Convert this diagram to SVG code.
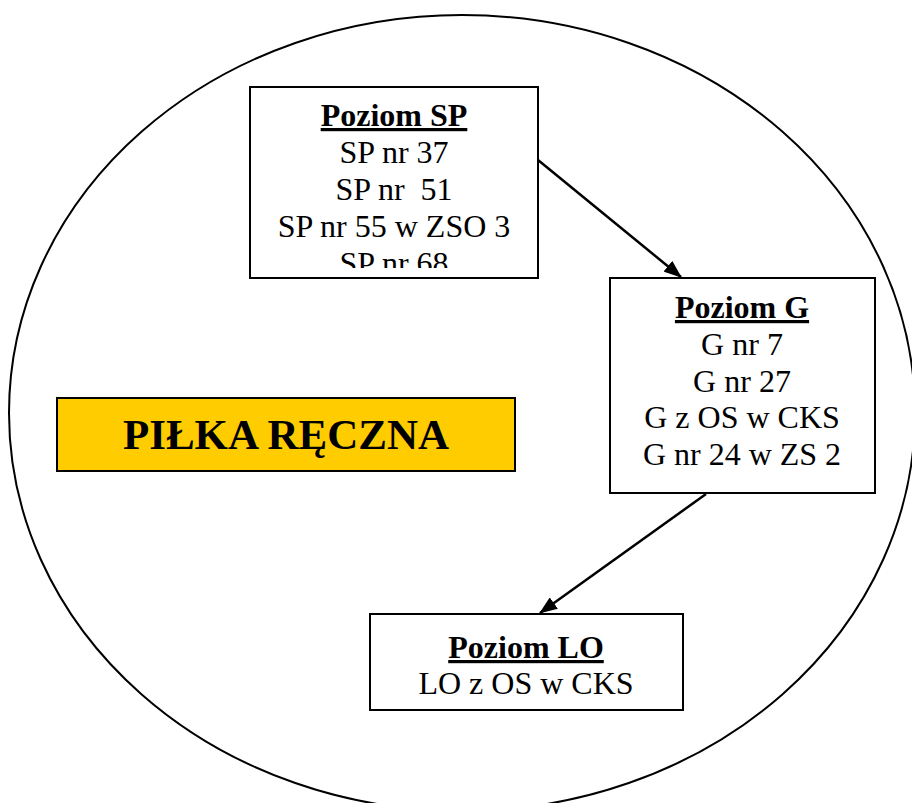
<svg xmlns="http://www.w3.org/2000/svg" width="912" height="803" viewBox="0 0 912 803">
<style>
.box{fill:#fff;stroke:#000;stroke-width:2}
.t{font-family:"Liberation Serif","Times New Roman",serif;font-size:32px;text-anchor:middle;fill:#000}
.h{font-weight:bold;text-decoration:underline}
.conn{stroke:#000;stroke-width:2.5;fill:none;marker-end:url(#ah)}
</style>
<defs>
<marker id="ah" viewBox="0 0 18 14" refX="17" refY="7" markerWidth="18" markerHeight="14" orient="auto" markerUnits="userSpaceOnUse">
<path d="M0,0 L18,7 L0,14 z" fill="#000"/>
</marker>
<clipPath id="spclip"><rect x="250" y="88" width="287" height="180"/></clipPath>
</defs>
<rect width="912" height="803" fill="#fff"/>
<ellipse cx="462" cy="413" rx="453" ry="398" fill="none" stroke="#000" stroke-width="2"/>
<g id="pilka">
<rect x="57" y="398" width="458" height="73" fill="#FFCC00" stroke="#000" stroke-width="2"/>
<text x="286" y="449" class="t" style="font-weight:bold;font-size:43px">PIŁKA RĘCZNA</text>
</g>
<g id="sp">
<rect class="box" x="250" y="87" width="288" height="191"/>
<g clip-path="url(#spclip)">
<text x="394" y="126" class="t h">Poziom SP</text>
<text x="394" y="163" class="t">SP nr 37</text>
<text x="394" y="200" class="t" xml:space="preserve">SP nr  51</text>
<text x="394" y="237" class="t">SP nr 55 w ZSO 3</text>
<text x="394" y="274" class="t">SP nr 68</text>
</g>
</g>
<g id="g">
<rect class="box" x="610" y="278" width="265" height="215"/>
<text x="742" y="318" class="t h">Poziom G</text>
<text x="742" y="355" class="t">G nr 7</text>
<text x="742" y="392" class="t">G nr 27</text>
<text x="742" y="428" class="t">G z OS w CKS</text>
<text x="742" y="465" class="t">G nr 24 w ZS 2</text>
</g>
<g id="lo">
<rect class="box" x="370" y="614" width="313" height="96"/>
<text x="526" y="658" class="t h">Poziom LO</text>
<text x="526" y="694" class="t">LO z OS w CKS</text>
</g>
<g id="connectors">
<line class="conn" x1="538" y1="160" x2="681" y2="277"/>
<line class="conn" x1="706" y1="494" x2="540" y2="613"/>
</g>
</svg>
